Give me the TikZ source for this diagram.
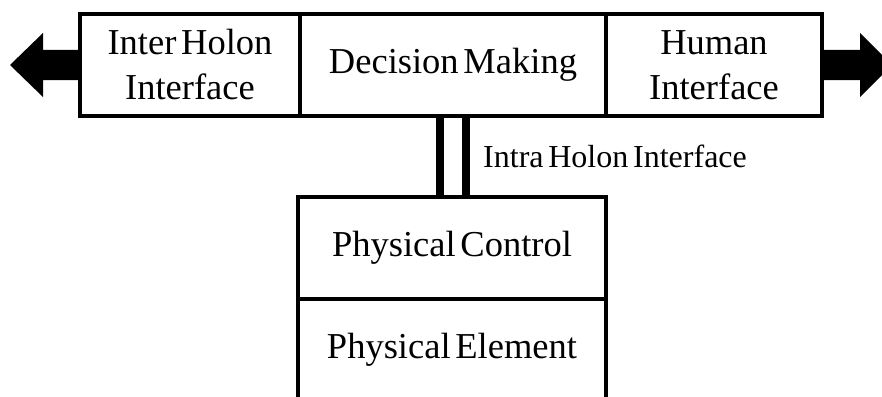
\documentclass[tikz,border=0pt]{standalone}
\usepackage{fontspec}
\setmainfont{Liberation Serif}
\newcommand{\cellfont}{\fontsize{36.5}{45}\selectfont\spaceskip=0.13em plus 0.05em\relax}
\newcommand{\intrafont}{\fontsize{32}{36}\selectfont\spaceskip=0.15em plus 0.05em\relax}
\begin{document}
\begin{tikzpicture}[x=1pt,y=-1pt,
  cell/.style={draw, line width=4pt, inner sep=0pt, align=center, font=\cellfont},
  bar/.style={line width=8pt},
  bigarrow/.style={fill=black, draw=none}]
\useasboundingbox (0,0) rectangle (882,396);
\clip (0,0) rectangle (882,396);
\node[cell, minimum width=220pt, minimum height=102pt] (inter) at (190,65) {Inter Holon\\Interface};
\node[cell, minimum width=306pt, minimum height=102pt] (dec) at (453,65) {Decision Making};
\node[cell, minimum width=216pt, minimum height=102pt] (human) at (714,65) {Human\\Interface};
\node[cell, minimum width=308pt, minimum height=102pt] (control) at (452,248) {Physical Control};
\node[cell, minimum width=308pt, minimum height=102pt] (element) at (452,350) {Physical Element};
\draw[bar] ([xshift=-13pt]dec.south) -- ([xshift=-13pt]dec.south |- control.north);
\draw[bar] ([xshift=13pt]dec.south) -- ([xshift=13pt]dec.south |- control.north);
\node[anchor=base west, inner sep=0pt, font=\intrafont] (intra) at (483,167) {Intra Holon Interface};
\fill[bigarrow] (inter.west) ++(0,-15) -- (43,50) -- (43,33) -- (10,65) -- (43,97) -- (43,80) -- (80,80) -- cycle;
\fill[bigarrow] (human.east) ++(0,-15) -- (860,50) -- (860,33) -- (892,65) -- (860,97) -- (860,80) -- (822,80) -- cycle;
\end{tikzpicture}
\end{document}
